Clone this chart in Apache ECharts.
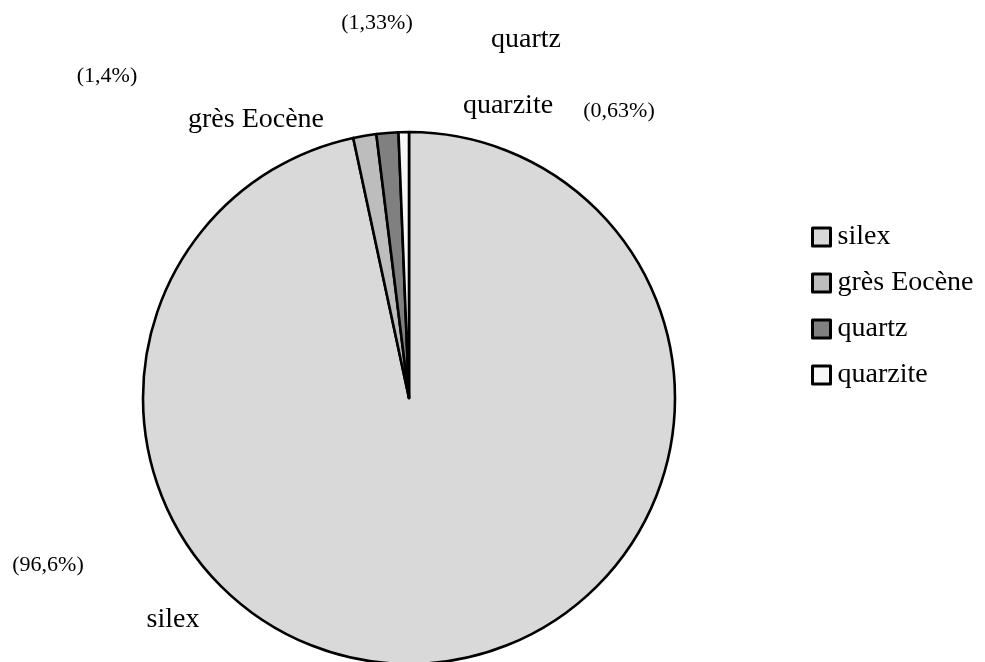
<!DOCTYPE html>
<html>
<head>
<meta charset="utf-8">
<script src="https://cdn.jsdelivr.net/npm/echarts@6/dist/echarts.min.js"></script>
<style>
html,body{margin:0;padding:0;background:#fff;}
#chart{width:985px;height:662px;}
</style>
</head>
<body>
<div id="chart"></div>
<script>
const categories = ['silex', 'grès Eocène', 'quartz', 'quarzite'];
const values = [96.6, 1.4, 1.33, 0.63];
const percentLabels = ['(96,6%)', '(1,4%)', '(1,33%)', '(0,63%)'];

const colors = ['#d9d9d9', '#bdbdbd', '#808080', '#f7f7f7'];
// label placement (style only)
const namePos = [[173, 620], [256, 120], [526, 40], [508, 106]];
const pctPos = [[48, 565], [107, 76], [377, 23], [619, 111]];

const FONT = '"Liberation Serif", "Times New Roman", serif';

const chart = echarts.init(document.getElementById('chart'), null, {renderer: 'canvas'});

const graphics = [];
categories.forEach((c, i) => {
  graphics.push({
    type: 'text', x: namePos[i][0], y: namePos[i][1],
    style: {text: c, font: '28px ' + FONT, fill: '#000', textAlign: 'center', textVerticalAlign: 'middle'}
  });
  graphics.push({
    type: 'text', x: pctPos[i][0], y: pctPos[i][1],
    style: {text: percentLabels[i], font: '22px ' + FONT, fill: '#000', textAlign: 'center', textVerticalAlign: 'middle'}
  });
});

chart.setOption({
  animation: false,
  backgroundColor: '#fff',
  color: colors,
  legend: {
    orient: 'vertical',
    left: 806,
    top: 218,
    icon: 'rect',
    itemWidth: 18,
    itemHeight: 18,
    itemGap: 18,
    data: categories,
    itemStyle: {borderColor: '#000', borderWidth: 3},
    textStyle: {fontFamily: FONT, fontSize: 28, color: '#000', lineHeight: 26, padding: [0, 0, 0, 2]}
  },
  series: [{
    type: 'pie',
    center: [409, 398],
    radius: 266,
    startAngle: 90,
    clockwise: true,
    avoidLabelOverlap: false,
    label: {show: false},
    labelLine: {show: false},
    emphasis: {disabled: true},
    itemStyle: {borderColor: '#000', borderWidth: 2.6},
    data: categories.map((c, i) => ({name: c, value: values[i], itemStyle: {color: colors[i]}}))
  }],
  graphic: graphics
});
</script>
</body>
</html>
